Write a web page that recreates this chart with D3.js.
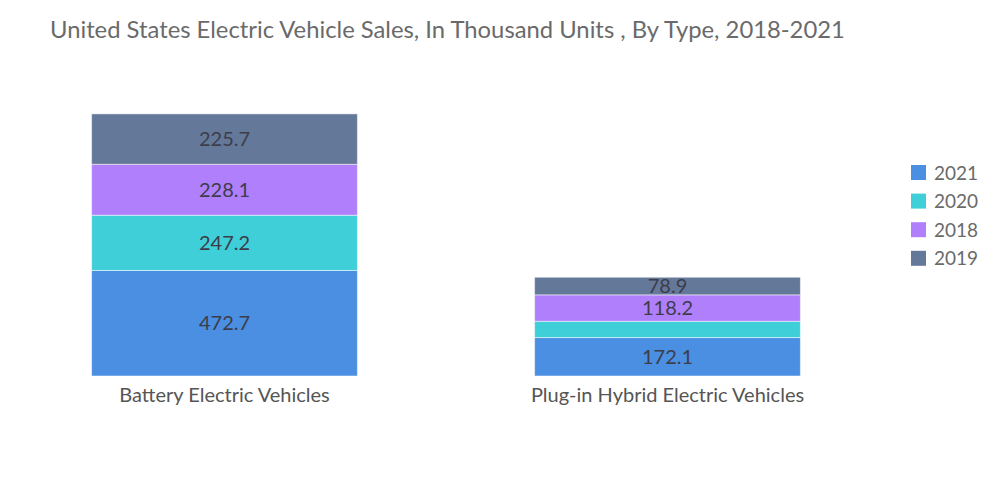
<!DOCTYPE html>
<html>
<head>
<meta charset="utf-8">
<script src="https://cdn.jsdelivr.net/npm/d3@7"></script>
<style>
  body { margin: 0; background: #fff; }
  svg { font-family: Lato, 'Open Sans', sans-serif; }
</style>
</head>
<body>
<div class="chart"></div>
<script>
// 数据
let categories = ['Battery Electric Vehicles', 'Plug-in Hybrid Electric Vehicles']
let years = ['2021', '2020', '2018', '2019'] // 堆叠顺序，从下往上
let values2021 = [472.7, 172.1]
let values2020 = [247.2, 73.0]
let values2018 = [228.1, 118.2]
let values2019 = [225.7, 78.9]
let colors = ['#4a8fe2', '#3fcfd9', '#b07ffc', '#647899']

let rows = categories.map((c, i) => ({
  name: c,
  '2021': values2021[i],
  '2020': values2020[i],
  '2018': values2018[i],
  '2019': values2019[i]
}))

let svg = d3.select('.chart')
  .append('svg')
  .attr('width', 1000)
  .attr('height', 504)

// 标题
svg.append('text')
  .attr('x', 50)
  .attr('y', 38)
  .attr('font-size', '23.8px')
  .attr('fill', '#6a6a6a')
  .text('United States Electric Vehicle Sales, In Thousand Units , By Type, 2018-2021')

let x = d3.scaleBand()
  .domain(categories)
  .range([3, 889])
  .paddingInner(0.4)
  .paddingOuter(0.2)

let y = d3.scaleLinear()
  .domain([0, 1200])
  .range([376, 108])

let color = d3.scaleOrdinal().domain(years).range(colors)

let stacked = d3.stack().keys(years)(rows)

let layer = svg.selectAll('.layer')
  .data(stacked)
  .enter()
  .append('g')
  .attr('class', 'layer')
  .attr('fill', d => color(d.key))

layer.selectAll('rect')
  .data(d => d)
  .enter()
  .append('rect')
  .attr('x', d => x(d.data.name))
  .attr('width', x.bandwidth())
  .attr('y', d => y(d[1]))
  .attr('height', d => y(d[0]) - y(d[1]))
  .attr('stroke', 'rgba(255,255,255,0.5)')
  .attr('stroke-width', 1)

// 数值标签，段太小时不显示
layer.selectAll('.bar-title')
  .data(d => d.filter(s => y(s[0]) - y(s[1]) >= 17))
  .enter()
  .append('text')
  .attr('class', 'bar-title')
  .attr('x', d => x(d.data.name) + x.bandwidth() / 2)
  .attr('y', d => (y(d[0]) + y(d[1])) / 2)
  .attr('dy', '0.35em')
  .attr('text-anchor', 'middle')
  .attr('font-size', '20px')
  .attr('fill', '#3d3d4a')
  .text(d => (d[1] - d[0]).toFixed(1))

// x 轴标签
let xAxis = svg.append('g')
  .attr('transform', 'translate(0,376)')
  .call(d3.axisBottom(x).tickSize(0).tickPadding(12))
xAxis.select('.domain').remove()
xAxis.selectAll('text')
  .attr('font-family', 'Lato, sans-serif')
  .attr('font-size', '20px')
  .attr('fill', '#555')

// 图例
let legend = svg.append('g')
  .attr('transform', 'translate(911,165)')
let item = legend.selectAll('.legend-item')
  .data(years)
  .enter()
  .append('g')
  .attr('class', 'legend-item')
  .attr('transform', (d, i) => `translate(0,${i * 28.6})`)
item.append('rect')
  .attr('width', 15)
  .attr('height', 15)
  .attr('fill', d => color(d))
item.append('text')
  .attr('x', 23)
  .attr('y', 8)
  .attr('dy', '0.35em')
  .attr('font-size', '19px')
  .attr('fill', '#6a6a6a')
  .text(d => d)
</script>
</body>
</html>
